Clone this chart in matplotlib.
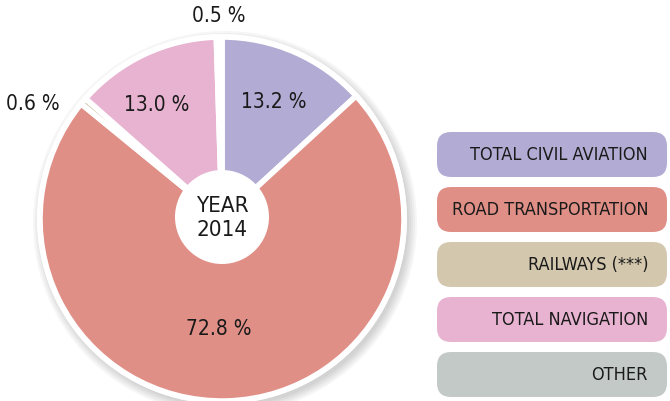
import matplotlib
matplotlib.use('Agg')
import matplotlib.pyplot as plt
from matplotlib.patches import Circle, FancyBboxPatch
import numpy as np

categories = ['TOTAL CIVIL AVIATION', 'ROAD TRANSPORTATION', 'RAILWAYS (***)',
              'TOTAL NAVIGATION', 'OTHER']
shares = [13.2, 72.8, 0.6, 13.0, 0.5]
labels = ['13.2 %', '72.8 %', '0.6 %', '13.0 %', '0.5 %']
colors = ['#b2acd4', '#e08f86', '#d3c7ad', '#e8b3d1', '#c2c9c6']
year = '2014'

# label placement: (distance as fraction of radius, angle offset in degrees)
label_pos = [(0.71, 0), (0.60, -3.5), (1.22, 9), (0.73, 4.5), (1.12, 0)]

W, H = 670, 402
fig = plt.figure(figsize=(W / 100, H / 100), dpi=100)
txt = dict(family=['DejaVu Sans'], fontstretch='condensed', color='#1a1a1a')

# pie axes: data units == pixels
cx, cy, R = 222, 220, 182
ax = fig.add_axes([(cx - 220) / W, (H - cy - 220) / H, 440 / W, 440 / H])

wedges, _ = ax.pie(shares, colors=colors, startangle=90, counterclock=False,
                   radius=R, wedgeprops=dict(edgecolor='white', linewidth=4),
                   frame=False)
ax.set_xlim(-220, 220)
ax.set_ylim(-220, 220)
ax.set_aspect('equal')
ax.axis('off')
for w in wedges:
    w.set_zorder(2)

# soft shadow
for i in range(5):
    ax.add_patch(Circle((3, -4), R + 2 + i * 2, color='black', alpha=0.035, lw=0, zorder=0))
ax.add_patch(Circle((0, 0), R + 3, color='white', lw=0, zorder=1))

for w, lab, (d, off) in zip(wedges, labels, label_pos):
    mid = np.deg2rad((w.theta1 + w.theta2) / 2 + off)
    ax.text(d * R * np.cos(mid), d * R * np.sin(mid), lab, ha='center', va='center',
            fontsize=15, zorder=5, **txt)

ax.add_patch(Circle((0, 2), 47, color='white', lw=0, zorder=4))
ax.text(0, 2, 'YEAR\n' + year, ha='center', va='center', fontsize=16,
        linespacing=1.25, zorder=5, **txt)

# legend boxes
lg = fig.add_axes([0, 0, 1, 1])
lg.set_xlim(0, W)
lg.set_ylim(H, 0)
lg.axis('off')
box_top, box_h, box_gap = 133, 45, 55
for i, (name, c) in enumerate(zip(categories, colors)):
    y0 = box_top + i * box_gap
    lg.add_patch(FancyBboxPatch((437, y0), 230, box_h,
                                boxstyle='round,pad=0,rounding_size=14',
                                fc=c, ec='none'))
    lg.text(648, y0 + box_h / 2, name, ha='right', va='center', fontsize=13, **txt)

fig.savefig('out.png', dpi=100)
